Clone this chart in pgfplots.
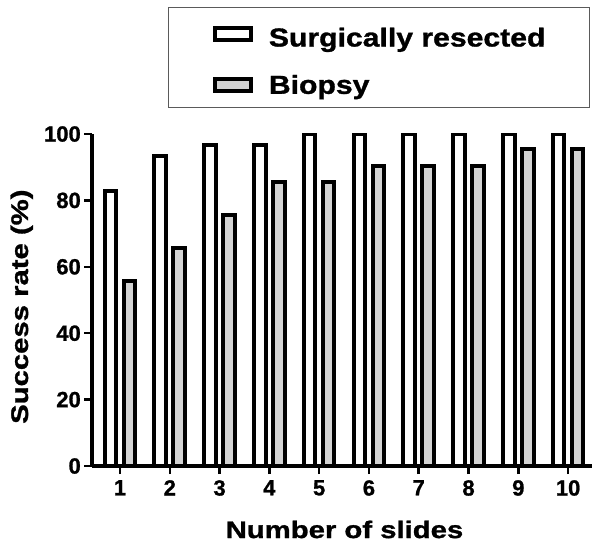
\documentclass[border=0pt]{standalone}
\usepackage{pgfplots}
\pgfplotsset{compat=1.18}
\usepackage{fontspec}
\setmainfont{Liberation Sans}
\newfontfamily\widefont{Liberation Sans Bold}[FakeStretch=1.22, FakeBold=1.2]
\newfontfamily\legfont{Liberation Sans Bold}[FakeStretch=1.16, FakeBold=1.2]
\newfontfamily\tickfont{Liberation Sans Bold}[FakeBold=1.0]
\definecolor{biopsy}{RGB}{211,211,211}
\definecolor{legframe}{RGB}{90,90,90}
\begin{document}
\begin{tikzpicture}
\useasboundingbox (-92bp,-82bp) rectangle (512bp,466bp);
\begin{axis}[
  at={(0,0)}, anchor=south west,
  scale only axis, width=500bp, height=332bp,
  xmin=0.438, xmax=10.48, ymin=0, ymax=100,
  axis x line*=bottom, axis y line*=left,
  axis line style={line width=3.5bp, black},
  xtick={1,2,3,4,5,6,7,8,9,10}, ytick={0,20,40,60,80,100},
  tick style={line width=2.5bp, black},
  tick align=outside, major tick length=8bp,
  ticklabel style={font=\tickfont\fontsize{22bp}{26bp}\selectfont, inner sep=0pt},
  xticklabel style={yshift=-6bp},
  yticklabel style={xshift=-3bp},
  /pgf/number format/assume math mode=true,
  xlabel={Number of slides}, ylabel={Success rate (\%)},
  label style={font=\widefont\fontsize{24bp}{28bp}\selectfont, inner sep=0pt},
  xlabel style={at={(axis description cs:0.505,-0.217)}, anchor=base},
  ylabel style={at={(axis description cs:-0.128,0.48)}, anchor=base, rotate=0},
  ybar, bar width=11.6bp,
  legend image code/.code={\draw[#1, line width=4bp] (0bp,-6bp) rectangle (36bp,6bp);},
  legend style={at={(0.996,1.3825)}, anchor=north east, draw=legframe, line width=1bp,
    font=\legfont\fontsize{26bp}{30bp}\selectfont,
    inner xsep=44bp, inner ysep=12bp, row sep=27bp, column sep=0bp,
    nodes={inner sep=0pt}},
  legend cell align=left,
]
\addplot[draw=black, line width=4bp, fill=white, bar shift=-9.5bp]
  coordinates {(1,82.8) (2,93.3) (3,96.7) (4,96.7) (5,100) (6,100) (7,100) (8,100) (9,100) (10,100)};
\addplot[draw=black, line width=4bp, fill=biopsy, bar shift=9.5bp]
  coordinates {(1,55.6) (2,65.6) (3,75.5) (4,85.4) (5,85.4) (6,90.5) (7,90.5) (8,90.5) (9,95.5) (10,95.5)};
\legend{\hspace{16bp}\rule{0pt}{27bp}Surgically resected, \hspace{16bp}Biopsy}
\end{axis}
\end{tikzpicture}
\end{document}
